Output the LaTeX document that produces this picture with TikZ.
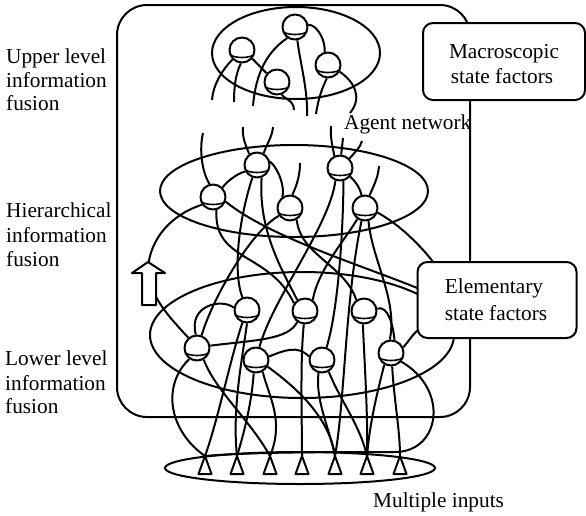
\documentclass[tikz,border=0pt]{standalone}
\usepackage{fontspec}
\setmainfont{Liberation Serif}
\pgfdeclarelayer{bg}
\pgfsetlayers{bg,main}
\begin{document}
\begin{tikzpicture}[x=1pt,y=-1pt,line join=round,line cap=round,
  thick line/.style={line width=2pt},
  ball/.style={circle,draw,thick line,fill=white,minimum size=25pt,inner sep=0pt,
    path picture={\draw[line width=1.6pt] ([yshift=-3pt]path picture bounding box.west) .. controls +(0pt,-6pt) and +(0pt,-6pt) .. ([yshift=-3pt]path picture bounding box.east);}},
  lbl/.style={anchor=base west,inner sep=0pt,font=\fontsize{21.3}{25}\selectfont},
  ctr/.style={anchor=base,inner sep=0pt,font=\fontsize{21.3}{25}\selectfont},
  sbox/.style={draw,thick line,fill=white,rounded corners=10pt,inner sep=0pt},
  tri/.style={draw,thick line,fill=white}]
\useasboundingbox (0,0) rectangle (586,515);

% ---------- nodes ----------
\node[ball] (T1) at (295,27) {};
\node[ball] (T2) at (242,50) {};
\node[ball] (T3) at (328,65) {};
\node[ball] (T4) at (277,82) {};
\node[ball] (M1) at (213,197) {};
\node[ball] (M2) at (257,165) {};
\node[ball] (M3) at (290,208) {};
\node[ball] (M4) at (340,168) {};
\node[ball] (M5) at (365,208) {};
\node[ball] (A1) at (247,310) {};
\node[ball] (A2) at (305,311) {};
\node[ball] (A3) at (364,311) {};
\node[ball] (B1) at (197,348) {};
\node[ball] (B2) at (256,360) {};
\node[ball] (B3) at (322,360) {};
\node[ball] (B4) at (391,353) {};

\foreach \n/\x in {1/205,2/237,3/270,4/302,5/335,6/367,7/400}{
  \coordinate (I\n) at (\x,456);
}
\foreach \n in {1,...,7}{
  \draw[tri] (I\n) -- ++(-6.5,18) -- ++(13,0) -- cycle;
}

% dangling ends and box attach points
\coordinate (u1) at (212,100);
\coordinate (u2) at (234,102);
\coordinate (u3) at (253,106);
\coordinate (u4) at (307,116);
\coordinate (u5) at (316,114);
\coordinate (u6) at (350,113);
\coordinate (u7) at (294,110);
\coordinate (v1) at (203,133);
\coordinate (v2) at (243,127);
\coordinate (v3) at (273,127);
\coordinate (v4) at (331,126);
\coordinate (v5) at (343,138);
\coordinate (v6) at (362,141);
\coordinate (v7) at (300,163);
\coordinate (v8) at (379,166);
\coordinate (e1) at (434,263);
\coordinate (e2) at (422,290);
\coordinate (e3) at (422,328);

% ---------- background: frame, ellipses, connectors ----------
\begin{pgfonlayer}{bg}
\begin{scope}[thick line]
\draw[rounded corners=30pt] (117,5) rectangle (470,417);
\draw (296,53) ellipse [x radius=84pt, y radius=46pt];
\draw (294,191) ellipse [x radius=134pt, y radius=46pt];
\draw (302,335) ellipse [x radius=152pt, y radius=63pt];
\draw (300,468) ellipse [x radius=135pt, y radius=16pt];

% top level
\draw (T1.10) .. controls (318,25) and (326,42) .. (T3.105);
\draw (T1.235) .. controls (262,55) and (255,82) .. (u3);
\draw (T1.280) .. controls (300,62) and (308,90) .. (u4);
\draw (T2.225) .. controls (222,70) and (213,85) .. (u1);
\draw (T2.265) .. controls (235,75) and (234,90) .. (u2);
\draw (T2.320) -- (T4.140);
\draw (T3.265) .. controls (322,88) and (318,100) .. (u5);
\draw (T3.330) .. controls (352,80) and (364,96) .. (u6);
\draw (T4.290) .. controls (283,98) and (294,100) .. (u7);

% middle level, upward ends
\draw (M1.105) .. controls (202,172) and (199,150) .. (v1);
\draw (M2.125) .. controls (246,146) and (242,138) .. (v2);
\draw (M2.60) .. controls (266,145) and (272,138) .. (v3);
\draw (M4.115) .. controls (333,148) and (330,138) .. (v4);
\draw (M4.85) -- (v5);
\draw (M4.45) .. controls (355,152) and (360,148) .. (v6);
\draw (M3.80) .. controls (297,185) and (300,175) .. (v7);
\draw (M5.70) .. controls (374,185) and (378,178) .. (v8);

% middle level, internal
\draw (M2.210) .. controls (240,172) and (228,180) .. (M1.45);
\draw (M4.320) .. controls (356,182) and (360,188) .. (M5.105);
\draw (M2.15) .. controls (280,170) and (285,190) .. (M3.125);

% middle to lower
\draw (M1.215) .. controls (170,215) and (150,240) .. (148,268) .. controls (148,295) and (170,318) .. (B1.130);
\draw (M1.285) .. controls (213,262) and (270,252) .. (A2.145);
\draw (M2.250) .. controls (240,215) and (232,270) .. (A1.110);
\draw (M2.290) .. controls (258,230) and (282,270) .. (A2.125);
\draw (M3.215) .. controls (250,232) and (212,300) .. (B1.70);
\draw (M3.300) .. controls (300,255) and (345,265) .. (A3.125);
\draw (M4.250) .. controls (330,225) and (272,300) .. (B2.75);
\draw (M4.285) .. controls (343,235) and (338,310) .. (B3.70);
\draw (M5.235) .. controls (345,240) and (318,270) .. (A2.55);
\draw (M5.285) .. controls (372,260) and (398,300) .. (B4.95);
\draw (M5.340) .. controls (400,225) and (420,245) .. (e1);
\draw (M1.340) .. controls (270,238) and (370,268) .. (e2);
\draw (M5.255) .. controls (345,300) and (345,400) .. (I5);

% lower level, internal
\draw (B1.95) .. controls (188,305) and (222,298) .. (A1.170);
\draw (B1.10) .. controls (255,340) and (288,340) .. (A2.235);
\draw (B2.15) .. controls (285,350) and (298,345) .. (B3.165);
\draw (A3.10) .. controls (388,305) and (393,325) .. (B4.75);
\draw (B4.25) .. controls (410,340) and (415,330) .. (e3);

% lower to inputs
\draw (B1.235) .. controls (162,385) and (168,430) .. (I1);
\draw (B1.300) .. controls (215,390) and (250,420) .. (I3);
\draw (A1.250) .. controls (230,360) and (218,420) .. (I1);
\draw (A1.270) .. controls (242,360) and (232,410) .. (I2);
\draw (B2.260) .. controls (252,400) and (245,430) .. (I2);
\draw (B2.300) .. controls (268,395) and (285,420) .. (I3);
\draw (B2.330) .. controls (300,390) and (330,420) .. (I5);
\draw (A2.265) .. controls (300,360) and (302,420) .. (I4);
\draw (B3.255) .. controls (315,400) and (330,430) .. (I5);
\draw (B3.300) .. controls (340,400) and (360,425) .. (I6);
\draw (A3.265) .. controls (365,370) and (368,420) .. (I6);
\draw (B4.240) .. controls (378,390) and (370,420) .. (I6);
\draw (B4.275) .. controls (394,400) and (400,430) .. (I7);
\draw (B4.320) .. controls (450,390) and (440,452) .. (395,452) .. controls (330,452) and (250,452) .. (I1);
\end{scope}
\end{pgfonlayer}

% ---------- arrow ----------
\draw[thick line,fill=white] (142,305) -- (142,273) -- (132,273) -- (148,262) -- (165,273) -- (156,273) -- (156,305) -- cycle;

% ---------- boxes ----------
\node[sbox,minimum width=162pt,minimum height=77pt] (macro) at (504,61.5) {};
\node[sbox,minimum width=159pt,minimum height=76pt] (elem) at (497,300) {};
\node[ctr] (mac1) at (504,58) {Macroscopic};
\node[ctr] (mac2) at (502,83) {state factors};
\node[ctr] (ele1) at (494,293) {Elementary};
\node[ctr] (ele2) at (496,320) {state factors};

% ---------- labels ----------
\node[lbl] (ul1) at (6,63) {Upper level};
\node[lbl] (ul2) at (6,87) {information};
\node[lbl] (ul3) at (6,110) {fusion};
\node[lbl] (hl1) at (6,217) {Hierarchical};
\node[lbl] (hl2) at (6,242) {information};
\node[lbl] (hl3) at (6,266) {fusion};
\node[lbl] (ll1) at (5,365) {Lower level};
\node[lbl] (ll2) at (5,390) {information};
\node[lbl] (ll3) at (5,413) {fusion};
\node[lbl] (agent) at (344,129) {Agent network};
\node[lbl] (multi) at (373,507) {Multiple inputs};
\end{tikzpicture}
\end{document}
